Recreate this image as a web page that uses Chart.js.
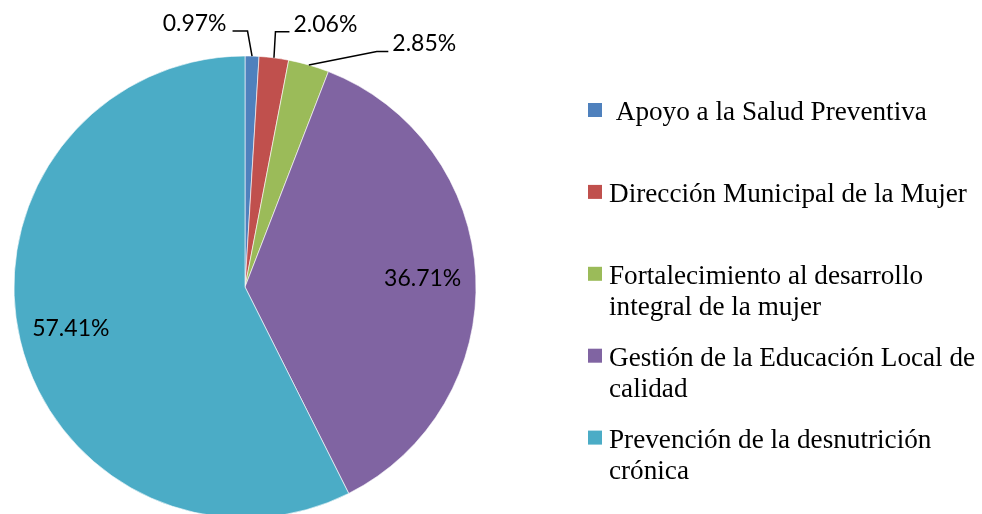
<!DOCTYPE html>
<html>
<head>
<meta charset="utf-8">
<script src="https://cdn.jsdelivr.net/npm/chart.js@4/dist/chart.umd.min.js"></script>
<style>
  html, body { margin: 0; padding: 0; background: #fff; overflow: hidden; }
  #wrap { width: 982px; height: 514px; position: relative; }
</style>
</head>
<body>
<div id="wrap"><canvas id="c" width="982" height="514"></canvas></div>
<script>
// ---- data ----
const categories = [
  ' Apoyo a la Salud Preventiva',
  'Dirección Municipal de la Mujer',
  'Fortalecimiento al desarrollo integral de la mujer',
  'Gestión de la Educación Local de calidad',
  'Prevención de la desnutrición crónica'
];
const percentages = [0.97, 2.06, 2.85, 36.71, 57.41];

// ---- styles ----
const sliceColors = ['#4F81BD', '#C0504D', '#9BBB59', '#8064A2', '#4BACC6'];
// label placement per slice: inside (fraction of radius) or outside with leader line
const labelStyles = [
  { type: 'out', dx: -4.5, dy: -25, len: -15 },
  { type: 'out', dx: 1.5, dy: -26, len: 14 },
  { type: 'out', dx: 68, dy: -13.5, len: 11.5 },
  { type: 'in', f: 0.77 },
  { type: 'in', f: 0.775 }
];
const labelFont = '23px Lato';
const legendFont = '27.2px "Liberation Serif"';
const legendLayout = { x: 588, textX: 609, firstBaseline: 120, step: 81.9, lineHeight: 31, box: 14, maxWidth: 385 };

const pieLabelPlugin = {
  id: 'pieLabels',
  afterDatasetsDraw(chart) {
    const ctx = chart.ctx;
    const meta = chart.getDatasetMeta(0);
    const values = chart.data.datasets[0].data;
    ctx.save();
    ctx.font = labelFont;
    ctx.fillStyle = '#000';
    ctx.strokeStyle = '#000';
    ctx.lineWidth = 1.5;
    meta.data.forEach((arc, i) => {
      const p = arc.getProps(['x', 'y', 'startAngle', 'endAngle', 'outerRadius'], true);
      const mid = (p.startAngle + p.endAngle) / 2;
      const txt = values[i].toFixed(2) + '%';
      const st = labelStyles[i];
      if (st.type === 'in') {
        const r = p.outerRadius * st.f;
        ctx.textAlign = 'center';
        ctx.textBaseline = 'middle';
        ctx.fillText(txt, p.x + Math.cos(mid) * r, p.y + Math.sin(mid) * r);
      } else {
        const ax = p.x + Math.cos(mid) * p.outerRadius;
        const ay = p.y + Math.sin(mid) * p.outerRadius;
        const ex = ax + st.dx, ey = ay + st.dy;
        const hx = ex + st.len;
        ctx.beginPath();
        ctx.moveTo(ax, ay);
        ctx.lineTo(ex, ey);
        ctx.lineTo(hx, ey);
        ctx.stroke();
        ctx.textBaseline = 'alphabetic';
        if (st.len < 0) {
          ctx.textAlign = 'right';
          ctx.fillText(txt, hx - 6, ey);
        } else {
          ctx.textAlign = 'left';
          ctx.fillText(txt, hx + 4, ey);
        }
      }
    });
    ctx.restore();
  }
};

function wrapText(ctx, text, maxWidth) {
  const words = text.split(' ');
  const lines = [];
  let cur = '';
  words.forEach((w) => {
    const test = cur === '' ? w : cur + ' ' + w;
    if (cur !== '' && ctx.measureText(test).width > maxWidth) {
      lines.push(cur);
      cur = w;
    } else {
      cur = test;
    }
  });
  if (cur !== '') lines.push(cur);
  return lines;
}

const legendPlugin = {
  id: 'sideLegend',
  afterDraw(chart) {
    const ctx = chart.ctx;
    const L = legendLayout;
    const labels = chart.data.labels;
    const colors = chart.data.datasets[0].backgroundColor;
    ctx.save();
    ctx.font = legendFont;
    ctx.textAlign = 'left';
    ctx.textBaseline = 'alphabetic';
    labels.forEach((lab, i) => {
      const base = L.firstBaseline + i * L.step;
      ctx.fillStyle = colors[i];
      ctx.fillRect(L.x, base - 17, L.box, L.box);
      ctx.fillStyle = '#000';
      const lead = lab.startsWith(' ') ? ' ' : '';
      const lines = wrapText(ctx, lab.trim(), L.maxWidth);
      lines.forEach((ln, j) => {
        ctx.fillText((j === 0 ? lead : '') + ln, L.textX, base + j * L.lineHeight);
      });
    });
    ctx.restore();
  }
};

new Chart(document.getElementById('c'), {
  type: 'pie',
  data: {
    labels: categories,
    datasets: [{
      data: percentages,
      backgroundColor: sliceColors,
      borderColor: 'rgba(255,255,255,0.6)',
      borderWidth: 1,
      radius: 231
    }]
  },
  options: {
    responsive: false,
    animation: false,
    layout: { padding: { left: 14, right: 506, top: 60, bottom: 0 } },
    plugins: {
      legend: { display: false },
      tooltip: { enabled: false }
    }
  },
  plugins: [pieLabelPlugin, legendPlugin]
});
</script>
</body>
</html>
